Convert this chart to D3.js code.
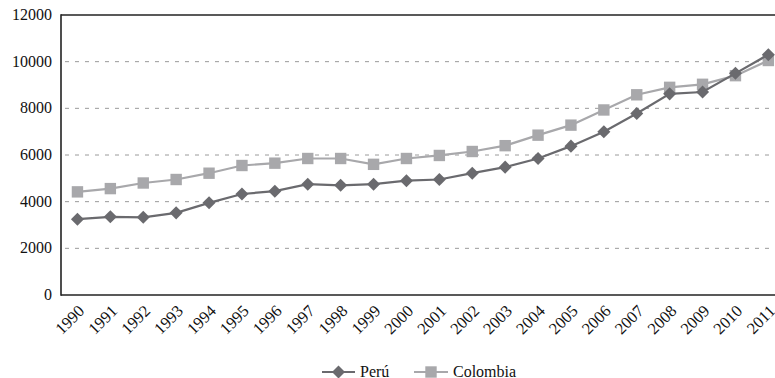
<!DOCTYPE html>
<html>
<head>
    <script src="https://d3js.org/d3.v7.min.js"></script>
    <style>
        body { margin: 0; background: #fff; }
        text { font-family: "Liberation Serif", "DejaVu Serif", serif; fill: #111; }
    </style>
</head>
<body>
    <div id="chart"></div>
    <script>
        var years = ["1990", "1991", "1992", "1993", "1994", "1995", "1996", "1997", "1998", "1999", "2000",
            "2001", "2002", "2003", "2004", "2005", "2006", "2007", "2008", "2009", "2010", "2011"];
        var peru = [3250, 3350, 3330, 3520, 3950, 4330, 4450, 4750, 4700, 4750, 4900,
            4950, 5220, 5480, 5850, 6380, 7000, 7780, 8620, 8700, 9500, 10300];
        var colombia = [4420, 4560, 4800, 4950, 5220, 5550, 5650, 5850, 5850, 5600, 5850,
            5980, 6150, 6400, 6850, 7280, 7930, 8580, 8900, 9030, 9400, 10050];
        var yTicks = [0, 2000, 4000, 6000, 8000, 10000, 12000];

        var W = 775, H = 378;
        var mLeft = 61, mTop = 15, mBottom = 295;

        var svg = d3.select("#chart").append("svg")
            .attr("width", W)
            .attr("height", H)
            .attr("font-family", "'Liberation Serif', serif");

        var x = d3.scaleBand().domain(years).range([mLeft, mLeft + 22 * 32.9]);
        var y = d3.scaleLinear().domain([0, 12000]).range([mBottom, mTop]);
        var cx = function (d, i) { return x(years[i]) + x.bandwidth() / 2; };

        // dashed grid
        svg.selectAll(".grid")
            .data(yTicks.filter(function (t) { return t > 0 && t < 12000; }))
            .enter().append("line")
            .attr("x1", mLeft + 4).attr("x2", W)
            .attr("y1", function (d) { return y(d); })
            .attr("y2", function (d) { return y(d); })
            .style("stroke", "#9a9a9a")
            .style("stroke-dasharray", "4,6");

        // y labels
        svg.selectAll(".ylab")
            .data(yTicks)
            .enter().append("text")
            .attr("x", mLeft - 9)
            .attr("y", function (d) { return y(d) + 5; })
            .attr("text-anchor", "end")
            .style("font-size", "16px")
            .text(function (d) { return d; });

        // x labels
        svg.selectAll(".xlab")
            .data(years)
            .enter().append("text")
            .attr("text-anchor", "end")
            .attr("transform", function (d) {
                return "translate(" + (x(d) + x.bandwidth() / 2 + 8) + "," + (mBottom + 17) + ") rotate(-45)";
            })
            .style("font-size", "16.5px")
            .text(function (d) { return d; });

        // frame
        svg.append("line").attr("x1", mLeft).attr("x2", W).attr("y1", mTop).attr("y2", mTop)
            .style("stroke", "#222").style("stroke-width", 1.6);
        svg.append("line").attr("x1", mLeft).attr("x2", W).attr("y1", mBottom).attr("y2", mBottom)
            .style("stroke", "#222").style("stroke-width", 1.6);
        svg.append("line").attr("x1", mLeft).attr("x2", mLeft).attr("y1", mTop - 0.8).attr("y2", mBottom + 0.8)
            .style("stroke", "#222").style("stroke-width", 1.6);

        var line = d3.line().x(cx).y(function (d) { return y(d); });

        var diamond = d3.symbol().type(d3.symbolSquare).size(85);
        var square = d3.symbol().type(d3.symbolSquare).size(130);

        // Colombia
        svg.append("path").datum(colombia).attr("d", line)
            .style("fill", "none").style("stroke", "#a8a8ab").style("stroke-width", 2.2);
        svg.selectAll(".col").data(colombia).enter().append("path")
            .attr("d", square)
            .attr("transform", function (d, i) { return "translate(" + cx(d, i) + "," + y(d) + ")"; })
            .style("fill", "#a8a8ab");

        // Peru
        svg.append("path").datum(peru).attr("d", line)
            .style("fill", "none").style("stroke", "#6a6a6e").style("stroke-width", 2.2);
        svg.selectAll(".per").data(peru).enter().append("path")
            .attr("d", diamond)
            .attr("transform", function (d, i) { return "translate(" + cx(d, i) + "," + y(d) + ") rotate(45)"; })
            .style("fill", "#6a6a6e");

        // legend
        var lg = svg.append("g").attr("transform", "translate(0,372)");
        lg.append("line").attr("x1", 322).attr("x2", 355).attr("y1", 0).attr("y2", 0)
            .style("stroke", "#6a6a6e").style("stroke-width", 2.2);
        lg.append("path").attr("d", diamond).attr("transform", "translate(338.5,0) rotate(45)")
            .style("fill", "#6a6a6e");
        lg.append("text").attr("x", 360).attr("y", 5).style("font-size", "16px").text("Perú");
        lg.append("line").attr("x1", 414).attr("x2", 448).attr("y1", 0).attr("y2", 0)
            .style("stroke", "#a8a8ab").style("stroke-width", 2.2);
        lg.append("path").attr("d", square).attr("transform", "translate(431,0)")
            .style("fill", "#a8a8ab");
        lg.append("text").attr("x", 453).attr("y", 5).style("font-size", "16px").text("Colombia");
    </script>
</body>
</html>
